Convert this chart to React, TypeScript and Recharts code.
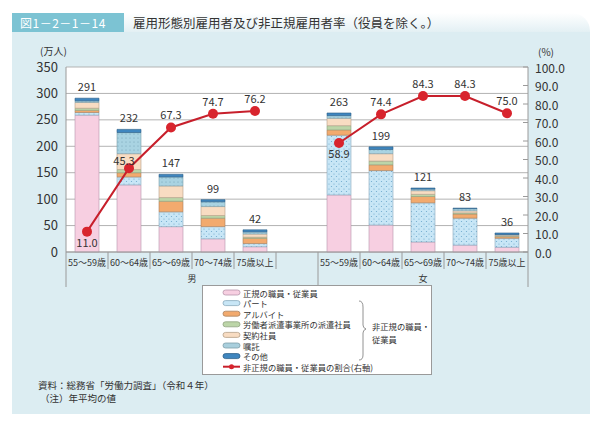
import React from "react";
import { ComposedChart, Bar, Line, XAxis, YAxis, CartesianGrid, LabelList } from "recharts";

const FONT = '"Noto Sans CJK JP", "Noto Sans", sans-serif';

const ageGroups = ["55～59歳", "60～64歳", "65～69歳", "70～74歳", "75歳以上"];
const sexes = ["男", "女"];

const maleRegular = [259, 127, 48, 25, 10];
const malePart = [5, 15, 28, 23, 6];
const maleArbeit = [4, 8, 20, 16, 10];
const maleDispatch = [4, 6, 7, 5, 2];
const maleContract = [11, 30, 22, 17, 6];
const maleEntrusted = [3, 40, 17, 9, 4];
const maleOther = [5, 6, 5, 4, 4];
const maleTotal = [291, 232, 147, 99, 42];
const maleRate = [11.0, 45.3, 67.3, 74.7, 76.2];

const femaleRegular = [108, 51, 19, 13, 9];
const femalePart = [113, 103, 74, 51, 17];
const femaleArbeit = [10, 11, 12, 8, 3];
const femaleDispatch = [8, 7, 4, 2, 1];
const femaleContract = [14, 14, 7, 4, 2];
const femaleEntrusted = [5, 8, 3, 4, 1];
const femaleOther = [5, 5, 2, 1, 3];
const femaleTotal = [263, 199, 121, 83, 36];
const femaleRate = [58.9, 74.4, 84.3, 84.3, 75.0];

const leftTicks = [0, 50, 100, 150, 200, 250, 300, 350];
const rightTicks = [0, 10, 20, 30, 40, 50, 60, 70, 80, 90, 100];

const seriesNames = ["正規の職員・従業員", "パート", "アルバイト", "労働者派遣事業所の派遣社員", "契約社員", "嘱託", "その他"];
const lineName = "非正規の職員・従業員の割合(右軸)";
const braceLabel = ["非正規の職員・", "従業員"];

const seriesKeys = ["regular", "part", "arbeit", "dispatch", "contract", "entrusted", "other"];
const seriesFills = ["#f7cfe1", "url(#dotsPart)", "#f2aa6e", "#bcd5a8", "#f8dcc2", "url(#dotsEnt)", "#3f86bf"];
const swatchFills = ["#f7cfe1", "#c8e6f6", "#f2aa6e", "#bcd5a8", "#f8dcc2", "#a9cfdd", "#3f86bf"];
const seriesStrokes = ["#b695ab", "#8aa9bd", "#a9825f", "#8fa27f", "#b59f88", "#7e9eaa", "#2d5f88"];

function buildRows(
  sex: string, regular: number[], part: number[], arbeit: number[], dispatch: number[],
  contract: number[], entrusted: number[], other: number[], total: number[], rate: number[]
) {
  return ageGroups.map((age, i) => ({
    key: sex + age,
    label: age,
    sex,
    regular: regular[i],
    part: part[i],
    arbeit: arbeit[i],
    dispatch: dispatch[i],
    contract: contract[i],
    entrusted: entrusted[i],
    other: other[i],
    total: total[i],
    rate: rate[i],
  }));
}

const rows: any[] = [
  ...buildRows(sexes[0], maleRegular, malePart, maleArbeit, maleDispatch, maleContract, maleEntrusted, maleOther, maleTotal, maleRate),
  { key: "gap", label: "", sex: "" },
  ...buildRows(sexes[1], femaleRegular, femalePart, femaleArbeit, femaleDispatch, femaleContract, femaleEntrusted, femaleOther, femaleTotal, femaleRate),
];

const W = 602;
const CH = 300;
const PLOT_L = 66;
const PLOT_R = 528;
const HALF = (PLOT_R - PLOT_L) / rows.length / 2;
const firstFemale = ageGroups.length + 1;

function CategoryTick(props: any) {
  const { x, y, index } = props;
  const row = rows[index];
  const isEdge = index === 0 || index === firstFemale;
  const isLast = index === rows.length - 1;
  const groupMid = Math.floor(ageGroups.length / 2);
  return (
    <g>
      {row && row.label ? (
        <text x={x} y={y + 10} textAnchor="middle" dominantBaseline="central" fontSize={9} fill="#333">
          {row.label}
        </text>
      ) : null}
      <line x1={x - HALF} x2={x - HALF} y1={y} y2={y + (isEdge ? 35 : 17)} stroke="#9a9a9a" strokeWidth={1} />
      {isLast ? <line x1={x + HALF} x2={x + HALF} y1={y} y2={y + 35} stroke="#9a9a9a" strokeWidth={1} /> : null}
      {index === groupMid ? (
        <text x={x + HALF} y={y + 26} textAnchor="middle" dominantBaseline="central" fontSize={9} fill="#333">
          {sexes[0]}
        </text>
      ) : null}
      {index === firstFemale + groupMid ? (
        <text x={x} y={y + 26} textAnchor="middle" dominantBaseline="central" fontSize={9} fill="#333">
          {sexes[1]}
        </text>
      ) : null}
    </g>
  );
}

function RightTick(props: any) {
  const { x, y, payload } = props;
  return (
    <g>
      <line x1={x - 5} x2={x} y1={y} y2={y} stroke="#9a9a9a" />
      <text x={x + 7} y={y} dominantBaseline="central" fontSize={12} fill="#333">
        {Number(payload.value).toFixed(1)}
      </text>
    </g>
  );
}

function TotalLabel(props: any) {
  const { x, y, width, value } = props;
  if (value == null) return null;
  return (
    <text x={x + width / 2} y={y - 12} textAnchor="middle" dominantBaseline="central" fontSize={11} fill="#333">
      {value}
    </text>
  );
}

function RateLabel(props: any) {
  const { x, y, value, index } = props;
  if (value == null) return null;
  let dy = -13;
  let dx = 0;
  if (index === 0 || index === firstFemale) dy = 10;
  if (index === 1) {
    dy = -8;
    dx = -5;
  }
  return (
    <text x={x + dx} y={y + dy} textAnchor="middle" dominantBaseline="central" fontSize={11} fill="#333">
      {Number(value).toFixed(1)}
    </text>
  );
}

function Legend() {
  const rowY = (i: number) => 7.5 + i * 10.6;
  const fs = 8.3;
  const H = 90;
  return (
    <div style={{ position: "absolute", left: 202, top: 285, width: 230, height: H, background: "#fff", border: "1px solid #9a9a9a", boxSizing: "border-box" }}>
      <svg width={230} height={H} style={{ position: "absolute", left: -1, top: -1 }}>
        {seriesNames.map((n, i) => (
          <g key={n}>
            <rect x={21} y={rowY(i) - 2.5} width={17} height={5} rx={2.5} fill={swatchFills[i]} stroke={seriesStrokes[i]} strokeWidth={0.8} />
            <text x={41} y={rowY(i)} dominantBaseline="central" fontSize={fs} fill="#333" fontFamily={FONT}>
              {n}
            </text>
          </g>
        ))}
        <line x1={21} x2={38} y1={rowY(7)} y2={rowY(7)} stroke="#c71f2b" strokeWidth={2} />
        <circle cx={29.5} cy={rowY(7)} r={2.5} fill="#d8242d" />
        <text x={41} y={rowY(7)} dominantBaseline="central" fontSize={fs} fill="#333" fontFamily={FONT}>
          {lineName}
        </text>
        <path d="M 157 16 Q 161 16 161 22 L 161 40 Q 161 43 164 44 Q 161 45 161 48 L 161 70 Q 161 75 157 75" fill="none" stroke="#777" strokeWidth={0.8} />
        <text x={170} y={41} dominantBaseline="central" fontSize={fs} fill="#333" fontFamily={FONT}>{braceLabel[0]}</text>
        <text x={170} y={54} dominantBaseline="central" fontSize={fs} fill="#333" fontFamily={FONT}>{braceLabel[1]}</text>
      </svg>
    </div>
  );
}

export default function App() {
  return (
    <div style={{ position: "absolute", left: 0, top: 0, width: W, height: 425, background: "#fff", fontFamily: FONT, overflow: "hidden" }}>
      <div style={{ position: "absolute", left: 12, top: 32, width: 578, height: 382, background: "#dcedf2" }} />
      <div style={{ position: "absolute", left: 124, top: 13, width: 466, height: 19, background: "linear-gradient(to bottom, #ffffff, #e3f0f4)", borderTopRightRadius: 18 }} />
      <div style={{ position: "absolute", left: 12, top: 13, width: 112, height: 19, background: "#7cc3d3", color: "#fff", fontSize: 12, lineHeight: "19px", paddingLeft: 8, boxSizing: "border-box", letterSpacing: 0.5 }}>
        図1－2－1－14
      </div>
      <div style={{ position: "absolute", left: 133, top: 13, height: 19, color: "#333", fontSize: 12.5, lineHeight: "19px", whiteSpace: "nowrap" }}>
        雇用形態別雇用者及び非正規雇用者率（役員を除く。）
      </div>
      <div style={{ position: "absolute", left: 40, top: 45, fontSize: 10, lineHeight: "12px", color: "#333" }}>(万人)</div>
      <div style={{ position: "absolute", left: 538, top: 46, fontSize: 10, lineHeight: "11px", color: "#333" }}>(%)</div>
      <div style={{ position: "absolute", left: 0, top: 0 }}>
        <ComposedChart width={W} height={CH} data={rows} margin={{ top: 67, right: 24, bottom: 10, left: 20 }} barCategoryGap={0}>
          <defs>
            <pattern id="dotsPart" width={5} height={5} patternUnits="userSpaceOnUse">
              <rect width={5} height={5} fill="#c8e6f6" />
              <circle cx={1.5} cy={1.5} r={0.6} fill="#6fa9cc" />
              <circle cx={4} cy={4} r={0.6} fill="#6fa9cc" />
            </pattern>
            <pattern id="dotsEnt" width={4} height={4} patternUnits="userSpaceOnUse">
              <rect width={4} height={4} fill="#a9d3e2" />
              <circle cx={2} cy={2} r={0.5} fill="#6a98ab" />
            </pattern>
          </defs>
          <CartesianGrid yAxisId="left" vertical={false} stroke="#b3b3b3" fill="#fff" />
          <XAxis
            dataKey="key"
            interval={0}
            height={38}
            tickLine={false}
            tickSize={0}
            tickMargin={0}
            axisLine={{ stroke: "#9a9a9a" }}
            tick={<CategoryTick />}
          />
          <YAxis
            yAxisId="left"
            width={46}
            domain={[0, 350]}
            ticks={leftTicks}
            interval={0}
            tickLine={false}
            tickSize={0}
            tickMargin={8}
            axisLine={{ stroke: "#9a9a9a" }}
            tick={{ fontSize: 13, fill: "#333" }}
          />
          <YAxis
            yAxisId="right"
            orientation="right"
            width={50}
            domain={[0, 100]}
            ticks={rightTicks}
            interval={0}
            tickLine={false}
            tickSize={0}
            tickMargin={0}
            axisLine={{ stroke: "#9a9a9a" }}
            tick={<RightTick />}
          />
          {seriesKeys.map((k, i) => (
            <Bar
              key={k}
              yAxisId="left"
              dataKey={k}
              name={seriesNames[i]}
              stackId="a"
              barSize={24}
              fill={seriesFills[i]}
              stroke={seriesStrokes[i]}
              strokeWidth={0.6}
              isAnimationActive={false}
            >
              {i === seriesKeys.length - 1 ? <LabelList dataKey="total" content={<TotalLabel />} /> : null}
            </Bar>
          ))}
          <Line
            yAxisId="right"
            dataKey="rate"
            name={lineName}
            stroke="#c71f2b"
            strokeWidth={2}
            dot={{ r: 5, fill: "#d8242d", stroke: "#d8242d", strokeWidth: 0 }}
            isAnimationActive={false}
          >
            <LabelList dataKey="rate" content={<RateLabel />} />
          </Line>
        </ComposedChart>
      </div>
      <Legend />
      <div style={{ position: "absolute", left: 38, top: 379, fontSize: 9.5, color: "#333", lineHeight: "13px" }}>
        <div>資料：総務省「労働力調査」（令和４年）</div>
        <div style={{ paddingLeft: 2 }}>（注）年平均の値</div>
      </div>
    </div>
  );
}
